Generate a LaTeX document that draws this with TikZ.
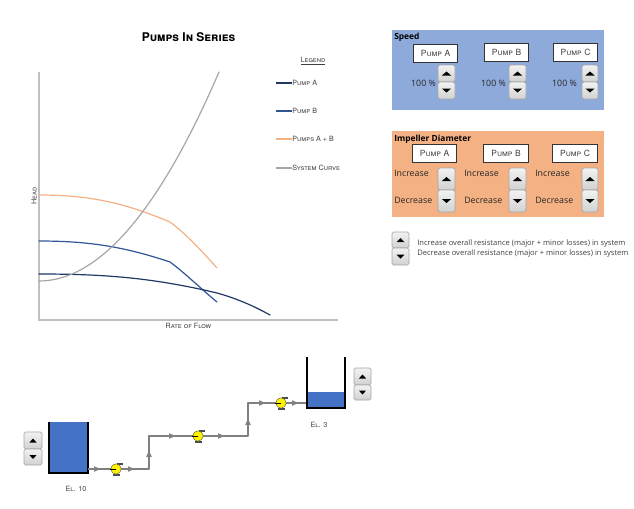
\documentclass[tikz,border=0pt]{standalone}
\usepackage{fontspec}
\setmainfont{Liberation Sans}
\newfontfamily\capsfont[Letters=SmallCaps]{TeX Gyre Heros}
\newfontfamily\uifont{Open Sans}
\definecolor{panelblue}{HTML}{8EAADB}
\definecolor{panelorange}{HTML}{F4B183}
\definecolor{waterblue}{HTML}{4472C4}
\definecolor{curveA}{HTML}{1F3864}
\definecolor{curveB}{HTML}{2F5597}
\definecolor{curveS}{HTML}{A6A6A6}
\definecolor{curveO}{HTML}{F4B183}
\definecolor{axisgrey}{HTML}{BFBFBF}
\definecolor{pipegrey}{HTML}{808080}
\definecolor{inktext}{HTML}{404040}
\tikzset{
  x=0.75pt,y=-0.75pt,
  axisline/.style={draw=axisgrey,line width=1.1pt},
  curveline/.style={line width=0.9pt,line cap=round,line join=round},
  legendtext/.style={font=\capsfont\fontsize{5.4}{7}\selectfont,text=inktext,anchor=west,inner sep=0pt},
  labeltext/.style={font=\capsfont\fontsize{5.4}{7}\selectfont,text=inktext,inner sep=0pt},
  pumpbox/.style={draw=black!80,line width=0.6pt,fill=white,minimum width=33.5pt,minimum height=13.5pt,inner sep=0pt,font=\capsfont\fontsize{6.4}{8}\selectfont,text=inktext},
  uitext/.style={font=\uifont\fontsize{6.6}{8}\selectfont,text=black!85,inner sep=0pt},
  uihead/.style={font=\uifont\bfseries\fontsize{6.3}{8}\selectfont,text=black,inner sep=0pt,anchor=west},
  smalltext/.style={font=\uifont\fontsize{5.67}{7}\selectfont,text=black!75,inner sep=0pt,anchor=west},
  spinbtn/.style={draw=black!35,line width=0.5pt,rounded corners=1.2pt,top color=white!95!black,bottom color=black!18},
  tankwall/.style={draw=black,line width=1.6pt,line cap=butt},
  pipeline/.style={draw=pipegrey,line width=0.85pt,line join=round},
  flowmark/.style={fill=pipegrey,draw=none},
  pumpnode/.style={circle,draw=black!70,line width=0.3pt,fill=yellow,minimum size=7.8pt,inner sep=0pt},
}
\newcommand{\spinner}[6][3.6]{%
  \path[spinbtn] (#2,#4) rectangle (#3,#5);
  \path[spinbtn] (#2,#5) rectangle (#3,#6);
  \pgfmathsetmacro{\cx}{(#2+#3)/2}
  \pgfmathsetmacro{\ua}{(#4+#5)/2}
  \pgfmathsetmacro{\da}{(#5+#6)/2}
  \fill[black] (\cx-#1,\ua+2) -- (\cx+#1,\ua+2) -- (\cx,\ua-2) -- cycle;
  \fill[black] (\cx-#1,\da-2) -- (\cx+#1,\da-2) -- (\cx,\da+2) -- cycle;
}
\newcommand{\pumpicon}[3]{%
  \fill[black!70] (#1-3.5,#2+7) rectangle (#1+3.5,#2+5);
  \fill[black!70] (#1+1,#2-6.5) rectangle (#1+7,#2-4.5);
  \node[pumpnode] (#3) at (#1,#2) {};
  \draw[black,line width=0.6pt] (#1-6,#2) -- (#1,#2);
}
\newcommand{\flowR}[2]{\fill[flowmark] (#1-3,#2-2.8) -- (#1+3.5,#2) -- (#1-3,#2+2.8) -- cycle;}
\newcommand{\flowU}[2]{\fill[flowmark] (#1-2.8,#2+3) -- (#1+2.8,#2+3) -- (#1,#2-3.5) -- cycle;}
\begin{document}
\begin{tikzpicture}
\useasboundingbox (0,0) rectangle (634,508);
% title
\node[font=\capsfont\bfseries\fontsize{9}{11}\selectfont,text=black,inner sep=0pt] (title) at (188.5,37) {Pumps In Series};
% axes
\coordinate (yaxtop) at (39,72);
\coordinate (origin) at (39,320);
\coordinate (xaxend) at (338,320);
\draw[axisline] (yaxtop) -- (origin) -- (xaxend);
\node[labeltext,rotate=90] (ylab) at (34,196) {Head};
\node[labeltext] (xlab) at (188.5,325.5) {Rate of Flow};
% curves
\draw[curveline,curveO] (39,195) .. controls (90,195) and (125,203) .. (170,222) .. controls (185,233) and (200,249) .. (217,268);
\draw[curveline,curveB] (39,241) .. controls (90,241) and (125,247) .. (170,262) .. controls (185,273) and (200,288) .. (217,302);
\draw[curveline,curveA] (39,274) .. controls (100,274) and (150,277) .. (217,293) .. controls (235,298) and (252,305) .. (270,315);
\draw[curveline,curveS] (39,281) .. controls (99,281) and (159,211.3) .. (219,72);
% legend
\node[legendtext,anchor=center] (legendtitle) at (313,61) {\underline{Legend}};
\foreach \yy/\cc/\tt/\nn in {83/curveA/Pump A/la,111/curveB/Pump B/lb,139/curveO/Pumps A + B/lc,168/curveS/System Curve/ld}{
  \coordinate (\nn s) at (276,\yy);
  \node[legendtext] (\nn) at (292,\yy) {\tt};
  \draw[curveline,\cc,line cap=butt] (\nn s) -- (\nn.west);
}
% speed panel
\fill[panelblue] (392,30) rectangle (604,110);
\node[uihead] (speedhead) at (394,37) {Speed};
\node[pumpbox] (sa) at (435.5,53) {Pump A};
\node[pumpbox] (sb) at (506.5,52) {Pump B};
\node[pumpbox] (sc) at (575.5,52) {Pump C};
\spinner[4.6]{438}{455}{65}{82}{99}
\spinner[4.6]{509}{526}{65}{82}{99}
\spinner[4.6]{582}{598}{65}{82}{99}
\node[uitext] (pa) at (423.5,83) {100 \%};
\node[uitext] (pb) at (493.5,83) {100 \%};
\node[uitext] (pc) at (564.5,83) {100 \%};
% impeller panel
\fill[panelorange] (392,131) rectangle (604,217);
\node[uihead] (imphead) at (394,139) {Impeller Diameter};
\node[pumpbox] (ia) at (434.5,153.5) {Pump A};
\node[pumpbox] (ib) at (506,153) {Pump B};
\node[pumpbox] (ic) at (575,153) {Pump C};
\spinner[4.6]{438}{455}{168}{190}{212}
\spinner[4.6]{509}{526}{168}{190}{212}
\spinner[4.6]{582}{598}{168}{190}{212}
\foreach \xx/\nn in {394/a,464/b,535/c}{
  \node[uitext,anchor=west] (inc\nn) at (\xx,173.5) {Increase};
  \node[uitext,anchor=west] (dec\nn) at (\xx,200) {Decrease};
}
% resistance
\spinner[4]{392}{409}{232}{248}{265}
\node[smalltext] (rinc) at (417,244) {Increase overall resistance (major + minor losses) in system};
\node[smalltext] (rdec) at (417,254) {Decrease overall resistance (major + minor losses) in system};
% tanks
\fill[waterblue] (49,422) rectangle (88,473);
\draw[tankwall] (49,422) -- (49,473) -- (88,473) -- (88,422);
\fill[waterblue] (307,392) rectangle (345,408);
\draw[tankwall] (307,357) -- (307,408) -- (345,408) -- (345,357);
\coordinate (tankL) at (88,469);
\coordinate (tankR) at (306,403);
\coordinate (b1) at (149,469);
\coordinate (b2) at (149,436);
\coordinate (b3) at (248,436);
\coordinate (b4) at (248,403);
\draw[pipeline] (tankL) -- (b1) -- (b2) -- (b3) -- (b4) -- (tankR);
\flowR{97}{469}\flowR{131}{469}\flowU{149}{454}\flowR{172}{436}\flowR{221}{436}\flowU{248}{422}\flowR{262}{403}\flowR{295}{403}
\pumpicon{116}{469}{pump1}
\pumpicon{198}{436}{pump2}
\pumpicon{281}{403}{pump3}
\node[labeltext] (el10) at (76,489) {El. 10};
\node[labeltext] (el3) at (319,425) {El. 3};
\spinner[3.6]{24}{42}{432}{449}{465}
\spinner[3.6]{354}{371}{368}{385}{400}
\end{tikzpicture}
\end{document}
